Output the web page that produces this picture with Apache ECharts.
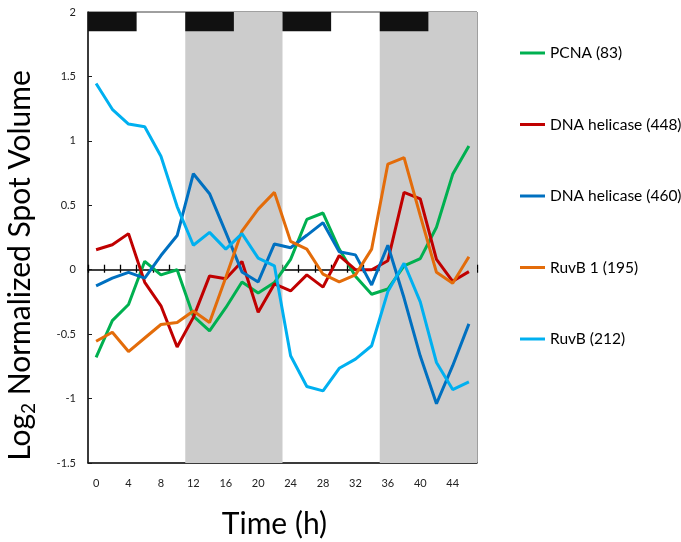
<!DOCTYPE html>
<html>
<head>
<meta charset="utf-8">
<script src="https://cdn.jsdelivr.net/npm/echarts@6/dist/echarts.min.js"></script>
<style>
  html, body { margin: 0; padding: 0; background: #fff; }
  #chart { width: 681px; height: 542px; }
</style>
</head>
<body>
<div id="chart"></div>
<script>
// Sampling times (hours), one category per time point
const hours = [0, 2, 4, 6, 8, 10, 12, 14, 16, 18, 20, 22, 24, 26, 28, 30, 32, 34, 36, 38, 40, 42, 44, 46];

// Log2 normalized spot volumes per protein spot
const pcna83 = [-0.68, -0.395, -0.27, 0.065, -0.04, 0.0, -0.36, -0.475, -0.295, -0.095, -0.18, -0.10,
                0.08, 0.39, 0.44, 0.16, -0.05, -0.19, -0.15, 0.03, 0.086, 0.33, 0.74, 0.96];
const helicase448 = [0.155, 0.194, 0.28, -0.098, -0.28, -0.60, -0.37, -0.048, -0.07, 0.064, -0.33, -0.11,
                     -0.165, -0.04, -0.135, 0.11, 0.0, 0.0, 0.07, 0.6, 0.55, 0.08, -0.09, -0.015];
const helicase460 = [-0.125, -0.065, -0.02, -0.065, 0.11, 0.265, 0.745, 0.59, 0.29, -0.017, -0.095, 0.20,
                     0.17, 0.267, 0.365, 0.14, 0.115, -0.118, 0.19, -0.22, -0.67, -1.04, -0.745, -0.42];
const ruvB1_195 = [-0.555, -0.485, -0.635, -0.53, -0.425, -0.41, -0.32, -0.41, -0.06, 0.30, 0.47, 0.6,
                   0.22, 0.16, -0.035, -0.095, -0.04, 0.16, 0.82, 0.87, 0.42, -0.02, -0.105, 0.10];
const ruvB212 = [1.445, 1.245, 1.13, 1.11, 0.88, 0.49, 0.19, 0.29, 0.16, 0.28, 0.09, 0.03,
                 -0.668, -0.906, -0.94, -0.765, -0.694, -0.59, -0.17, 0.05, -0.25, -0.72, -0.93, -0.87];

// Shaded periods (hours, on the continuous time scale) and top bars
const greyPeriods = [[11, 23], [35, 47]];
const topBars = [[-1, 5], [11, 17], [23, 29], [35, 41]];

const seriesNames = ['PCNA (83)', 'DNA helicase (448)', 'DNA helicase (460)', 'RuvB 1 (195)', 'RuvB (212)'];
const seriesData = [pcna83, helicase448, helicase460, ruvB1_195, ruvB212];
const seriesColors = ['#00B050', '#C00000', '#0070C0', '#E36C0A', '#00B0F0'];

const FONT = 'Lato, "Open Sans", sans-serif';
const hourLabels = hours.map(String);

const chart = echarts.init(document.getElementById('chart'), null, { renderer: 'canvas' });

function rectSeries(name, periods, y0, y1, color) {
  return {
    name: name,
    type: 'custom',
    xAxisIndex: 3,
    yAxisIndex: 0,
    silent: true,
    z: 1,
    data: periods,
    renderItem: function (params, api) {
      const p0 = api.coord([api.value(0), y1]);
      const p1 = api.coord([api.value(1), y0]);
      return {
        type: 'rect',
        shape: { x: p0[0], y: p0[1], width: p1[0] - p0[0], height: p1[1] - p0[1] },
        style: { fill: color }
      };
    }
  };
}

const lineSeries = seriesNames.map(function (name, i) {
  return {
    name: name,
    type: 'line',
    xAxisIndex: 0,
    yAxisIndex: 0,
    data: seriesData[i],
    symbol: 'none',
    z: 3,
    lineStyle: { color: seriesColors[i], width: 3 },
    itemStyle: { color: seriesColors[i] }
  };
});

const option = {
  animation: false,
  textStyle: { fontFamily: FONT },
  grid: {
    left: 88, right: 204, top: 12, bottom: 79,
    outerBoundsMode: 'none',
    containLabel: false,
    show: true, borderColor: '#404040', borderWidth: 1, backgroundColor: 'transparent'
  },
  legend: {
    data: seriesNames,
    orient: 'vertical',
    left: 515,
    top: 40,
    itemWidth: 25,
    itemHeight: 3,
    itemGap: 55.5,
    icon: 'rect',
    textStyle: { fontFamily: FONT, fontSize: 15.5, color: '#000' }
  },
  xAxis: [
    {
      type: 'category',
      data: hourLabels,
      position: 'bottom',
      boundaryGap: true,
      axisLine: { onZero: false, lineStyle: { color: '#1a1a1a', width: 1.5 } },
      axisTick: { show: false },
      axisLabel: { interval: 1, fontSize: 11, color: '#222', margin: 15, fontFamily: FONT },
      splitLine: { show: false },
      name: 'Time (h)',
      nameLocation: 'middle',
      nameGap: 46,
      nameTextStyle: { fontSize: 30, color: '#000', fontFamily: FONT, padding: [0, 16, 0, 0] }
    },
    {
      type: 'category',
      data: hourLabels,
      position: 'bottom',
      boundaryGap: true,
      axisLine: { onZero: true, onZeroAxisIndex: 0, lineStyle: { color: '#000', width: 1.5 } },
      axisTick: { show: true, interval: 0, length: 3, lineStyle: { color: '#000', width: 1.3 } },
      axisLabel: { show: false },
      splitLine: { show: false }
    },
    {
      type: 'category',
      data: hourLabels,
      position: 'bottom',
      boundaryGap: true,
      axisLine: { show: false, onZero: true, onZeroAxisIndex: 0 },
      axisTick: { show: true, inside: true, interval: 0, length: 5, lineStyle: { color: '#000', width: 1.3 } },
      axisLabel: { show: false },
      splitLine: { show: false }
    },
    {
      type: 'value',
      min: -1,
      max: 47,
      show: false
    }
  ],
  yAxis: [
    {
      type: 'value',
      min: -1.5,
      max: 2,
      interval: 0.5,
      axisLine: { show: true, onZero: false, lineStyle: { color: '#1a1a1a', width: 1.5 } },
      axisTick: { show: true, inside: true, length: 4, lineStyle: { color: '#1a1a1a' } },
      axisLabel: { fontSize: 11, color: '#222', margin: 12, fontFamily: FONT },
      splitLine: { show: false },
      name: 'Log{s|2} Normalized Spot Volume',
      nameLocation: 'middle',
      nameRotate: 90,
      nameGap: 50,
      nameTextStyle: {
        fontSize: 30, color: '#000', fontFamily: FONT,
        padding: [0, 56, 0, 0],
        rich: { s: { fontSize: 19, fontFamily: FONT, padding: [16, 0, 0, 0] } }
      }
    }
  ],
  series: [
    rectSeries('grey', greyPeriods, -1.5, 2, '#CCCCCC'),
    rectSeries('bars', topBars, 1.85, 2, '#111111')
  ].concat(lineSeries)
};

chart.setOption(option);
</script>
</body>
</html>
